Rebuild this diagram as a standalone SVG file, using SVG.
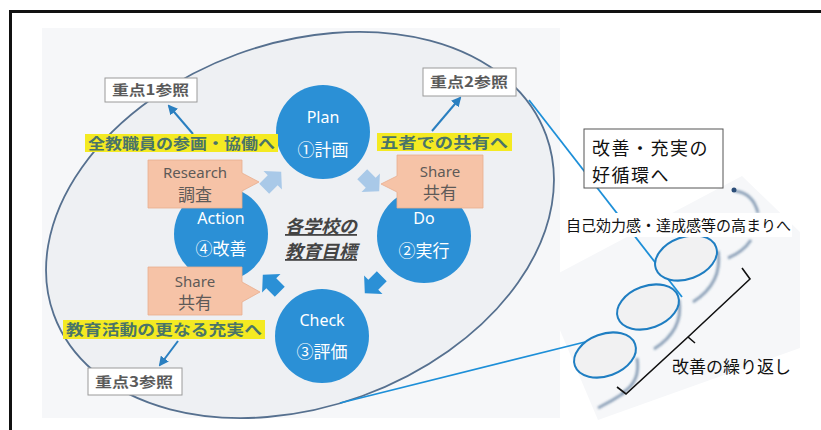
<svg xmlns="http://www.w3.org/2000/svg" width="821" height="430" viewBox="0 0 821 430">
<style>
.jp{font-family:"Noto Sans CJK JP","Noto Sans",sans-serif}
.circ{fill:#2b90d6}
.ct{fill:#ffffff;font-family:"Noto Sans","Noto Sans CJK JP",sans-serif;text-anchor:middle}
.salmon{fill:#f6c3a7;stroke:#e9ad8e;stroke-width:0.8}
.st{fill:#5e5a58;font-family:"Noto Sans","Noto Sans CJK JP",sans-serif;text-anchor:middle}
.yel{fill:#f4ea22}
.yt{fill:#4a7468;font-family:"Noto Sans CJK JP",sans-serif;font-size:15px;font-weight:bold}
.ref{fill:#ffffff;stroke:#9a9a9a;stroke-width:1}
.rt{fill:#5a5a5a;font-family:"Noto Sans CJK JP",sans-serif;font-size:14px;font-weight:bold}
.lk{stroke:#2a7fc0;stroke-width:2;fill:none}
.bl{stroke:#1d8fd8;stroke-width:1.8;fill:none}
.sp{fill:#f1f1f2;stroke:#1f7ec2;stroke-width:2}
.arc{fill:none;stroke:#3d5f86;stroke-width:3;opacity:0.55}
.bk{fill:#111;font-family:"Noto Sans CJK JP",sans-serif}
</style>
<defs>
<path id="barrow" d="M-11,-7 L1,-7 L1,-13 L13,0 L1,13 L1,7 L-11,7 Z"/>
<marker id="ah" viewBox="0 0 10 10" refX="8" refY="5" markerWidth="5" markerHeight="5" orient="auto">
<path d="M0,0 L10,5 L0,10 Z" fill="#2a7fc0"/>
</marker>
<filter id="blur" x="-20%" y="-20%" width="140%" height="140%"><feGaussianBlur stdDeviation="1.3"/></filter>
</defs>

<g id="background">
<rect x="42" y="28" width="518" height="390" fill="#f6f7f9"/>
<ellipse cx="300" cy="225" rx="262" ry="182" transform="rotate(-20 300 225)" fill="#eef0f3" stroke="#56708f" stroke-width="1.8"/>
<line x1="9" y1="11.5" x2="821" y2="11.5" stroke="#111" stroke-width="3"/>
<line x1="10.5" y1="10" x2="10.5" y2="430" stroke="#111" stroke-width="3"/>
<polygon points="540,283 742,176 800,232 800,348 598,420" fill="#f6f7f9"/>
</g>

<g id="connectors">
<line class="bl" x1="529" y1="100" x2="682" y2="297"/>
<line class="bl" x1="340" y1="403" x2="585" y2="342"/>
<line class="lk" x1="193" y1="134" x2="169" y2="106" marker-end="url(#ah)"/>
<line class="lk" x1="432" y1="131" x2="460" y2="98" marker-end="url(#ah)"/>
<line class="lk" x1="178" y1="341" x2="160" y2="365" marker-end="url(#ah)"/>
<use href="#barrow" fill="#a9c9e8" transform="translate(272 181) rotate(-45)"/>
<use href="#barrow" fill="#a9c9e8" transform="translate(370 182) rotate(45)"/>
<use href="#barrow" fill="#2b90d6" transform="translate(374 284) rotate(135)"/>
<use href="#barrow" fill="#2b90d6" transform="translate(272 284) rotate(-135)"/>
</g>

<g id="plan">
<circle class="circ" cx="323" cy="132" r="47"/>
<text class="ct" x="323" y="123" font-size="16">Plan</text>
<text class="ct" x="323" y="156" font-size="17">①計画</text>
</g>
<g id="do">
<circle class="circ" cx="424" cy="236" r="47"/>
<text class="ct" x="424" y="224" font-size="16">Do</text>
<text class="ct" x="424" y="257" font-size="17">②実行</text>
</g>
<g id="check">
<circle class="circ" cx="322" cy="336" r="47"/>
<text class="ct" x="322" y="326" font-size="16">Check</text>
<text class="ct" x="322" y="358" font-size="17">③評価</text>
</g>
<g id="action">
<circle class="circ" cx="221" cy="234" r="47"/>
<text class="ct" x="221" y="224" font-size="16">Action</text>
<text class="ct" x="221" y="255" font-size="17">④改善</text>
</g>

<g id="goal">
<text class="jp" x="321" y="233" font-size="18" font-weight="bold" font-style="italic" text-anchor="middle" fill="#444" text-decoration="underline">各学校の</text>
<text class="jp" x="321" y="258" font-size="18" font-weight="bold" font-style="italic" text-anchor="middle" fill="#444" text-decoration="underline">教育目標</text>
</g>

<g id="research">
<path class="salmon" d="M148,160 H242 V173 L259,182 L242,191 V208 H148 Z"/>
<text class="st" x="195" y="178" font-size="15">Research</text>
<text class="st" x="195" y="201" font-size="17">調査</text>
</g>
<g id="share-do">
<path class="salmon" d="M397,155 H483 V208 H397 V192 L381,184 L397,176 Z"/>
<text class="st" x="440" y="177" font-size="15">Share</text>
<text class="st" x="440" y="199" font-size="17">共有</text>
</g>
<g id="share-action">
<path class="salmon" d="M148,267 H242 V282 L260,292 L242,302 V315 H148 Z"/>
<text class="st" x="195" y="287" font-size="15">Share</text>
<text class="st" x="195" y="309" font-size="17">共有</text>
</g>

<g id="label-staff">
<rect class="yel" x="85" y="134" width="193" height="18"/>
<text class="yt" x="88" y="149" textLength="187" lengthAdjust="spacingAndGlyphs">全教職員の参画・協働へ</text>
</g>
<g id="label-five">
<rect class="yel" x="377" y="133" width="135" height="18"/>
<text class="yt" x="380" y="148" textLength="128" lengthAdjust="spacingAndGlyphs">五者での共有へ</text>
</g>
<g id="label-edu">
<rect class="yel" x="63" y="320" width="202" height="19"/>
<text class="yt" x="66" y="335" textLength="196" lengthAdjust="spacingAndGlyphs">教育活動の更なる充実へ</text>
</g>

<g id="ref-1">
<rect class="ref" x="105" y="78" width="92" height="24"/>
<text class="rt" x="112" y="95" textLength="77" lengthAdjust="spacingAndGlyphs">重点1参照</text>
</g>
<g id="ref-2">
<rect class="ref" x="423" y="68" width="93" height="28"/>
<text class="rt" x="430" y="87" textLength="78" lengthAdjust="spacingAndGlyphs">重点2参照</text>
</g>
<g id="ref-3">
<rect class="ref" x="88" y="368" width="94" height="27"/>
<text class="rt" x="95" y="387" textLength="78" lengthAdjust="spacingAndGlyphs">重点3参照</text>
</g>

<g id="cycle-box">
<rect x="584" y="129" width="139" height="59" fill="#fff" stroke="#555" stroke-width="1"/>
<text class="bk" x="592" y="155" font-size="18" letter-spacing="1.5">改善・充実の</text>
<text class="bk" x="592" y="182" font-size="18" letter-spacing="1.5">好循環へ</text>
</g>

<g id="spiral">
<g filter="url(#blur)">
<path class="arc" d="M598,408 Q612,401 624,393"/>
<path class="arc" d="M637,358 Q641,382 622,393"/>
<path class="arc" d="M679,300 Q684,330 654,349"/>
<path class="arc" d="M718,251 Q723,283 693,302"/>
<path class="arc" d="M728,258 Q743,252 751,240"/>
<path class="arc" d="M735,191 Q753,193 758,213"/>
</g>
<circle cx="734" cy="190" r="2.5" fill="#2b4d78"/>
<ellipse class="sp" cx="605" cy="355" rx="32" ry="21" transform="rotate(-20 605 355)"/>
<ellipse class="sp" cx="648" cy="307" rx="32" ry="21" transform="rotate(-20 648 307)"/>
<ellipse class="sp" cx="686" cy="258" rx="32" ry="21" transform="rotate(-20 686 258)"/>
<path d="M617,387 L626,394 L688,337 L695,343 M688,337 L750,279 L742,268" fill="none" stroke="#111" stroke-width="1.6"/>
</g>

<g id="self-efficacy">
<rect x="562" y="213" width="230" height="24" fill="#fff"/>
<text class="bk" x="566" y="231" font-size="15">自己効力感・達成感等の高まりへ</text>
</g>
<g id="repeat">
<text class="bk" x="672" y="373" font-size="17">改善の繰り返し</text>
</g>
</svg>
